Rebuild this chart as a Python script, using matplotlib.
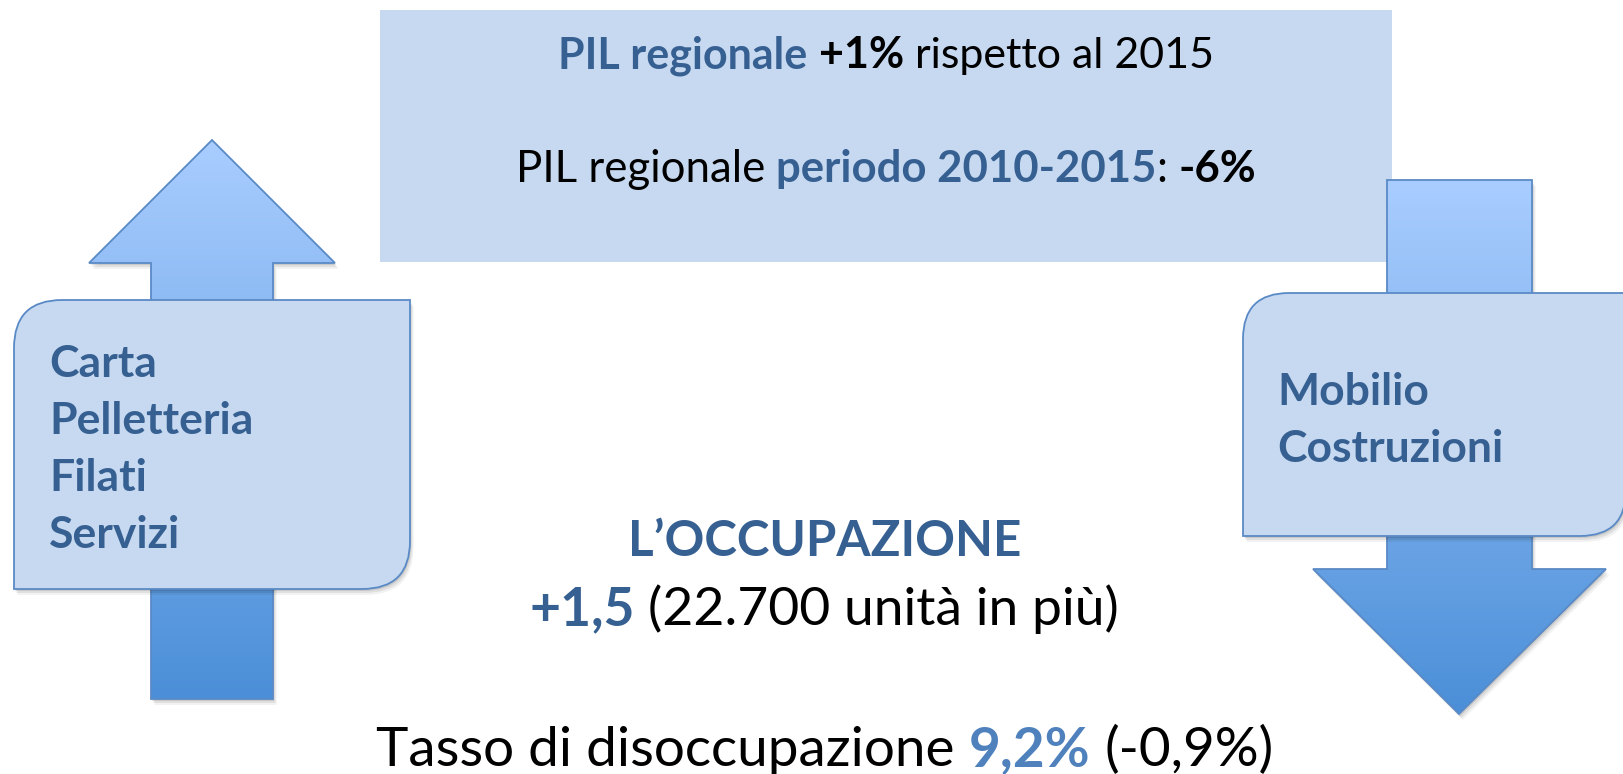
import numpy as np
import matplotlib.pyplot as plt
from matplotlib.path import Path
from matplotlib.patches import PathPatch, Polygon, Rectangle
from matplotlib.colors import LinearSegmentedColormap

plt.rcParams["font.family"] = ["Lato", "DejaVu Sans"]

# Contenuti della slide
pil_anno = "+1%"
pil_anno_rif = "2015"
pil_periodo = "2010-2015"
pil_periodo_var = "-6%"
settori_crescita = ["Carta", "Pelletteria", "Filati", "Servizi"]
settori_calo = ["Mobilio", "Costruzioni"]
occupazione_var = "+1,5"
occupazione_unita = "22.700"
disoccupazione_tasso = "9,2%"
disoccupazione_var = "-0,9%"

# Colori
DARK_BLUE = "#376092"
MID_BLUE = "#4F81BD"
BOX_FILL = "#C6D9F0"
BOX_EDGE = "#5A8AC6"
ARROW_TOP = "#A9CDFF"
ARROW_BOTTOM = "#4B8FD8"

W, H = 1623, 774
fig = plt.figure(figsize=(W / 100, H / 100), dpi=100)
ax = fig.add_axes([0, 0, 1, 1])
ax.set_xlim(0, W)
ax.set_ylim(H, 0)
ax.axis("off")


def add_shadow(ax, path_or_pts, zorder):
    # soft drop shadow: a few offset copies with low alpha
    for off, alpha in [(2, 0.10), (4, 0.08), (6, 0.05)]:
        if isinstance(path_or_pts, Path):
            verts = path_or_pts.vertices + np.array([off * 0.6, off])
            p = PathPatch(Path(verts, path_or_pts.codes), facecolor="black",
                          edgecolor="none", alpha=alpha, zorder=zorder)
        else:
            p = Polygon(np.asarray(path_or_pts) + np.array([off * 0.6, off]),
                        closed=True, facecolor="black", edgecolor="none",
                        alpha=alpha, zorder=zorder)
        ax.add_patch(p)


def gradient_arrow(ax, pts, zorder=2):
    pts = np.asarray(pts, dtype=float)
    add_shadow(ax, pts, zorder)
    outline = Polygon(pts, closed=True, facecolor="none", edgecolor=BOX_EDGE,
                      lw=1.3, zorder=zorder + 0.2)
    ax.add_patch(outline)
    cmap = LinearSegmentedColormap.from_list("arrow", [ARROW_TOP, ARROW_BOTTOM])
    grad = np.linspace(0, 1, 256).reshape(-1, 1)
    im = ax.imshow(grad, cmap=cmap, origin="upper", aspect="auto",
                   extent=(pts[:, 0].min(), pts[:, 0].max(),
                           pts[:, 1].max(), pts[:, 1].min()),
                   zorder=zorder + 0.1)
    im.set_clip_path(outline)


def callout(ax, x0, y0, x1, y1, r, zorder=4):
    # rectangle with rounded top-left and bottom-right corners (y points down)
    verts = [(x0 + r, y0), (x1, y0), (x1, y1 - r), (x1, y1), (x1 - r, y1),
             (x0, y1), (x0, y0 + r), (x0, y0), (x0 + r, y0), (x0 + r, y0)]
    codes = [Path.MOVETO, Path.LINETO, Path.LINETO, Path.CURVE3, Path.CURVE3,
             Path.LINETO, Path.LINETO, Path.CURVE3, Path.CURVE3, Path.CLOSEPOLY]
    path = Path(verts, codes)
    add_shadow(ax, path, zorder)
    ax.add_patch(PathPatch(path, facecolor=BOX_FILL, edgecolor=BOX_EDGE,
                           lw=1.3, zorder=zorder + 0.1))


def draw_runs(ax, cx, baseline, runs, size):
    # runs: (text, color, weight, space_before); centred on cx
    renderer = fig.canvas.get_renderer()
    a = ax.text(0, 0, "n n", fontsize=size)
    b = ax.text(0, 0, "nn", fontsize=size)
    space = a.get_window_extent(renderer).width - b.get_window_extent(renderer).width
    a.remove()
    b.remove()
    texts, widths = [], []
    for s, color, weight, gap in runs:
        t = ax.text(0, baseline, s, fontsize=size, color=color,
                    fontweight=weight, ha="left", va="baseline", zorder=10)
        texts.append((t, gap))
        widths.append(t.get_window_extent(renderer).width + (space if gap else 0))
    x = cx - sum(widths) / 2
    for (t, gap), w in zip(texts, widths):
        t.set_x(x + (space if gap else 0))
        x += w


# Riquadro PIL
ax.add_patch(Rectangle((380, 10), 1012, 252, facecolor=BOX_FILL,
                       edgecolor="none", zorder=1))
draw_runs(ax, 886, 68, [
    ("PIL regionale", DARK_BLUE, "bold", False),
    (pil_anno, "black", "bold", True),
    (f"rispetto al {pil_anno_rif}", "black", "normal", True),
], 31)
draw_runs(ax, 886, 182, [
    ("PIL regionale", "black", "normal", False),
    (f"periodo {pil_periodo}", DARK_BLUE, "bold", True),
    (":", "black", "normal", False),
    (pil_periodo_var, "black", "bold", True),
], 31.5)

# Freccia in su + settori in crescita
gradient_arrow(ax, [(212, 140), (335, 263), (273, 263), (273, 699),
                    (151, 699), (151, 263), (89, 263)])
callout(ax, 14, 300, 410, 589, 48)
for i, name in enumerate(settori_crescita):
    ax.text(49, 377 + i * 57, name, fontsize=32, fontweight="bold",
            color=DARK_BLUE, ha="left", va="baseline", zorder=10)

# Freccia in giu + settori in calo
gradient_arrow(ax, [(1387, 180), (1532, 180), (1532, 569), (1606, 569),
                    (1459, 714), (1313, 569), (1387, 569)])
callout(ax, 1243, 293, 1626, 536, 46)
for i, name in enumerate(settori_calo):
    ax.text(1277, 405 + i * 57, name, fontsize=32, fontweight="bold",
            color=DARK_BLUE, ha="left", va="baseline", zorder=10)

# Occupazione
ax.text(825, 556, "L\u2019OCCUPAZIONE", fontsize=35.5, fontweight="bold",
        color=DARK_BLUE, ha="center", va="baseline", zorder=10)
draw_runs(ax, 824, 625, [
    (occupazione_var, DARK_BLUE, "bold", False),
    (f"({occupazione_unita} unit\u00e0 in pi\u00f9)", "black", "normal", True),
], 38.5)
draw_runs(ax, 825, 766, [
    ("Tasso di disoccupazione", "black", "normal", False),
    (disoccupazione_tasso, MID_BLUE, "bold", True),
    (f"({disoccupazione_var})", "black", "normal", True),
], 39.5)

ax.set_xlim(0, W)
ax.set_ylim(H, 0)
fig.savefig("out.png", dpi=100)
